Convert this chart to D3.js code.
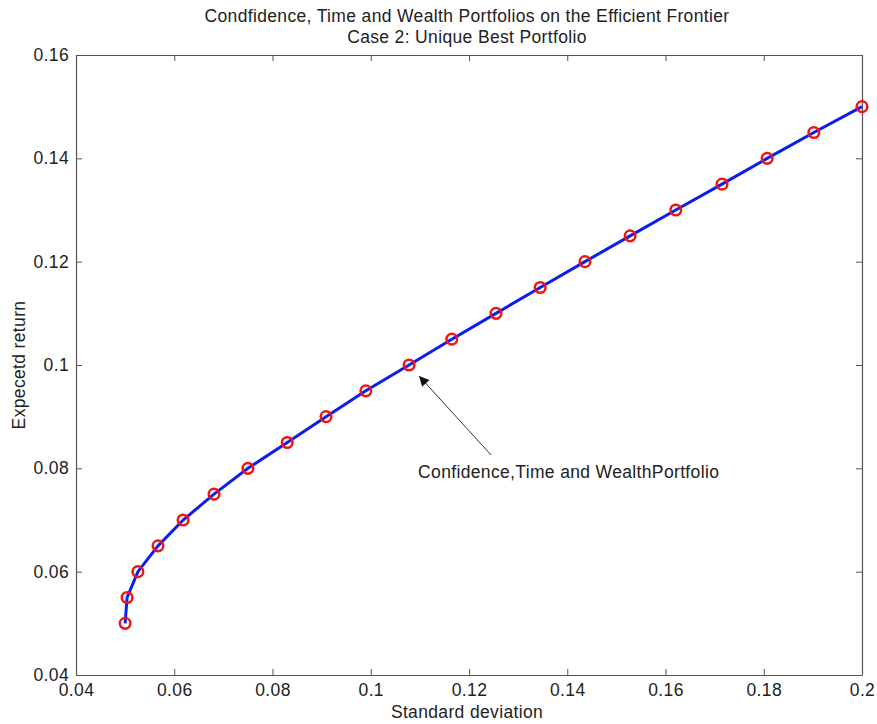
<!DOCTYPE html>
<html>
<head>
<meta charset="utf-8">
<script src="https://cdn.jsdelivr.net/npm/d3@7"></script>
<style>
  body { margin: 0; background: #fff; }
  text { font-family: "Liberation Sans", Arial, sans-serif; fill: #222; letter-spacing: 0.35px; }
</style>
</head>
<body>
<div id="chart"></div>
<script>
// values
const stdDev = [0.0500, 0.0504, 0.0526, 0.0567, 0.0618, 0.0681, 0.0750, 0.0830, 0.0909, 0.0990,
                0.1078, 0.1165, 0.1255, 0.1345, 0.1436, 0.1528, 0.1621, 0.1715, 0.1807, 0.1902, 0.2000];
const expReturn = [0.050, 0.055, 0.060, 0.065, 0.070, 0.075, 0.080, 0.085, 0.090, 0.095,
                   0.100, 0.105, 0.110, 0.115, 0.120, 0.125, 0.130, 0.135, 0.140, 0.145, 0.150];
const xTicks = [0.04, 0.06, 0.08, 0.1, 0.12, 0.14, 0.16, 0.18, 0.2];
const yTicks = [0.04, 0.06, 0.08, 0.1, 0.12, 0.14, 0.16];
const annotation = { x: 0.1078, y: 0.100, label: "Confidence,Time and WealthPortfolio" };

const points = stdDev.map((d, i) => ({ x: d, y: expReturn[i] }));

// Set dimensions and margins
const margin = { top: 55, right: 15, bottom: 49, left: 76 };
const width = 877 - margin.left - margin.right;
const height = 724 - margin.top - margin.bottom;
const fontSize = "17.5px";

const svg = d3.select("#chart")
  .append("svg")
    .attr("width", 877)
    .attr("height", 724)
  .append("g")
    .attr("transform", `translate(${margin.left},${margin.top})`);

const xScale = d3.scaleLinear().domain([0.04, 0.2]).range([0, width]);
const yScale = d3.scaleLinear().domain([0.04, 0.16]).range([height, 0]);

const fmt = d => d3.format("")(+d.toFixed(2));

// axes, ticks pointing inward like matlab
const axisColor = "#555";
function styleAxis(g) {
  g.select(".domain").attr("stroke", axisColor).attr("stroke-width", 1.2);
  g.selectAll(".tick line").attr("stroke", axisColor);
  g.selectAll(".tick text")
    .style("font-size", fontSize)
    .attr("font-family", "Liberation Sans, Arial, sans-serif")
    .attr("fill", "#222");
}

svg.append("g")
  .attr("transform", "translate(0," + height + ")")
  .call(d3.axisBottom(xScale).tickValues(xTicks).tickFormat(fmt).tickSizeInner(-6).tickSizeOuter(0).tickPadding(9))
  .call(styleAxis);

svg.append("g")
  .call(d3.axisLeft(yScale).tickValues(yTicks).tickFormat(fmt).tickSizeInner(-6).tickSizeOuter(0).tickPadding(7))
  .call(styleAxis);

svg.append("g")
  .call(d3.axisTop(xScale).tickValues(xTicks).tickFormat("").tickSizeInner(-6).tickSizeOuter(0))
  .call(styleAxis);

svg.append("g")
  .attr("transform", "translate(" + width + ",0)")
  .call(d3.axisRight(yScale).tickValues(yTicks).tickFormat("").tickSizeInner(-6).tickSizeOuter(0))
  .call(styleAxis);

// title
svg.append("text")
  .attr("x", width / 2 - 2)
  .attr("y", -33)
  .style("text-anchor", "middle")
  .style("font-size", fontSize)
  .text("Condfidence, Time and Wealth Portfolios on the Efficient Frontier");
svg.append("text")
  .attr("x", width / 2 - 2)
  .attr("y", -12)
  .style("text-anchor", "middle")
  .style("font-size", fontSize)
  .text("Case 2: Unique Best Portfolio");

// axis labels
svg.append("text")
  .attr("x", width / 2 - 2)
  .attr("y", height + 43)
  .style("text-anchor", "middle")
  .style("font-size", fontSize)
  .text("Standard deviation");

svg.append("text")
  .attr("transform", "rotate(-90)")
  .attr("x", 0 - (height / 2))
  .attr("y", -51)
  .style("text-anchor", "middle")
  .style("font-size", fontSize)
  .text("Expecetd return");

// frontier line
const line = d3.line().x(d => xScale(d.x)).y(d => yScale(d.y));
svg.append("path")
  .datum(points)
  .attr("fill", "none")
  .attr("stroke", "#0a1ef0")
  .attr("stroke-width", 3)
  .attr("d", line);

// markers
svg.selectAll(".dot")
  .data(points)
  .enter().append("circle")
  .attr("class", "dot")
  .attr("cx", d => xScale(d.x))
  .attr("cy", d => yScale(d.y))
  .attr("r", 5.3)
  .attr("fill", "none")
  .attr("stroke", "#f01414")
  .attr("stroke-width", 2.5);

// annotation arrow
svg.append("defs").append("marker")
  .attr("id", "arrowhead")
  .attr("viewBox", "0 0 10 10")
  .attr("refX", 10).attr("refY", 5)
  .attr("markerWidth", 12).attr("markerHeight", 10)
  .attr("markerUnits", "userSpaceOnUse")
  .attr("orient", "auto")
  .append("path")
  .attr("d", "M0,0 L10,5 L0,10 Z")
  .attr("fill", "#111");

const ax = xScale(annotation.x), ay = yScale(annotation.y);
svg.append("line")
  .attr("x1", ax + 82).attr("y1", ay + 90)
  .attr("x2", ax + 10).attr("y2", ay + 11)
  .attr("stroke", "#333")
  .attr("stroke-width", 1)
  .attr("marker-end", "url(#arrowhead)");

svg.append("text")
  .attr("x", ax + 9)
  .attr("y", ay + 113)
  .style("font-size", fontSize)
  .text(annotation.label);
</script>
</body>
</html>
